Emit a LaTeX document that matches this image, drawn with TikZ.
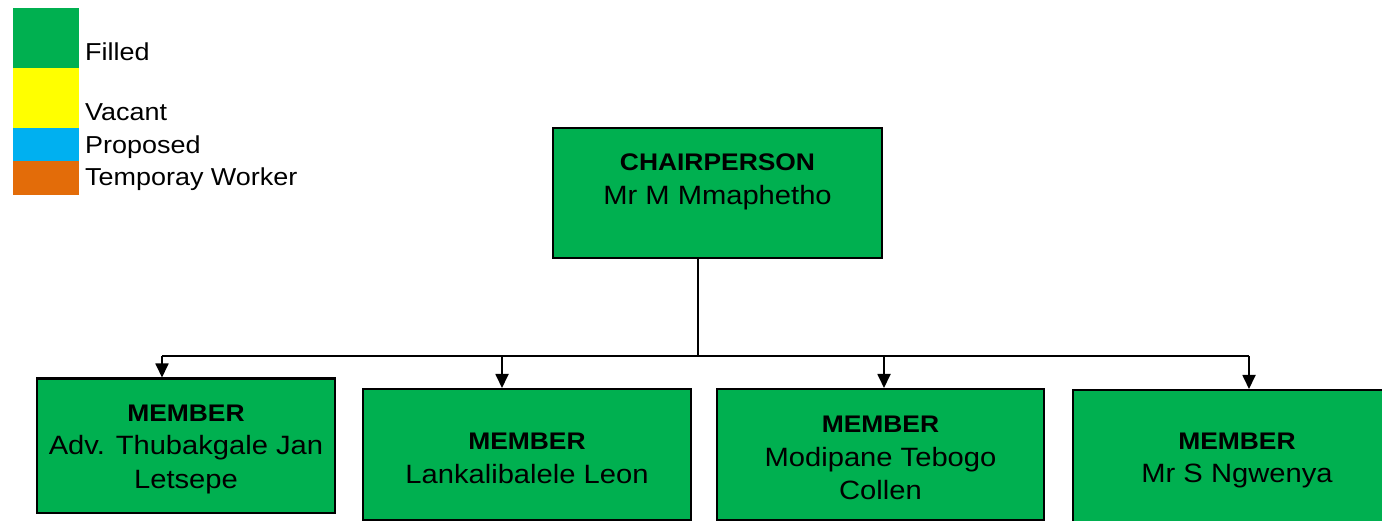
\documentclass[tikz,border=0pt]{standalone}
\usepackage{fontspec}
\setmainfont[FakeStretch=1.1]{Liberation Sans}
\usetikzlibrary{arrows.meta}

\definecolor{filled}{HTML}{00B050}
\definecolor{vacant}{HTML}{FFFF00}
\definecolor{proposed}{HTML}{00B0F0}
\definecolor{tempworker}{HTML}{E36C09}

\tikzset{
  post/.style={draw=black, line width=2pt, fill=filled, rectangle, inner sep=0pt,
    align=center, font=\fontsize{26.5}{33.5}\selectfont},
  posttext/.style={align=center, inner sep=0pt, font=\fontsize{26.5}{33.5}\selectfont},
  swatch/.style={draw=none},
  legendtext/.style={anchor=base west, inner sep=0pt, font=\fontsize{24.5}{30}\selectfont},
  link/.style={line width=1.8pt, draw=black},
  feed/.style={link, -{Triangle[width=13pt,length=14pt]}},
}
% bold title line; the strut gives it a little more room on top
\newcommand{\role}[1]{{\fontsize{24}{33.5}\selectfont\bfseries\rule{0pt}{24pt}#1}}

\begin{document}
\begin{tikzpicture}[x=1pt, y=-1pt]
  \useasboundingbox (0,0) rectangle (1382,521);
  \clip (0,0) rectangle (1382,521);

  % colour key
  \fill[filled]     (13,8)   rectangle (79,68);
  \fill[vacant]     (13,68)  rectangle (79,128);
  \fill[proposed]   (13,128) rectangle (79,161);
  \fill[tempworker] (13,161) rectangle (79,195);
  \node[legendtext] (kfilled) at (85,61)    {Filled};
  \node[legendtext] (kvacant) at (85,120.5) {Vacant};
  \node[legendtext] (kprop)   at (85,154)   {Proposed};
  \node[legendtext] (ktemp)   at (85,186)   {Temporay Worker};

  % chairperson
  \node[post, minimum width=329pt, minimum height=130pt] (chair) at (717.5,193) {};
  \node[posttext] (chairtext) at ([yshift=14.5pt]chair.center)
    {\role{CHAIRPERSON}\\Mr M Mmaphetho};

  % members
  \node[post, minimum width=298pt, minimum height=134pt] (m1) at (186,445.5)
    {\role{MEMBER}\\Adv. Thubakgale Jan\\Letsepe};
  \node[post, minimum width=328pt, minimum height=131pt] (m2) at (527,454.5)
    {\role{MEMBER}\\Lankalibalele Leon};
  \node[post, minimum width=327pt, minimum height=131pt] (m3) at (880.5,454.5)
    {\role{MEMBER}\\Modipane Tebogo\\Collen};
  \node[post, minimum width=328pt, minimum height=133pt] (m4) at (1237,456.5)
    {\role{MEMBER}\\Mr S Ngwenya};

  % connectors
  \coordinate (drop) at (698,356);
  \coordinate (t1) at (162,356);
  \coordinate (t2) at (502,356);
  \coordinate (t3) at (884,356);
  \coordinate (t4) at (1249,356);
  \draw[link] (chair.south -| drop) -- (drop);
  \draw[link] (t1) -- (t4);
  \draw[feed] (t1) -- (t1 |- m1.north);
  \draw[feed] (t2) -- (t2 |- m2.north);
  \draw[feed] (t3) -- (t3 |- m3.north);
  \draw[feed] (t4) -- (t4 |- m4.north);
\end{tikzpicture}
\end{document}
